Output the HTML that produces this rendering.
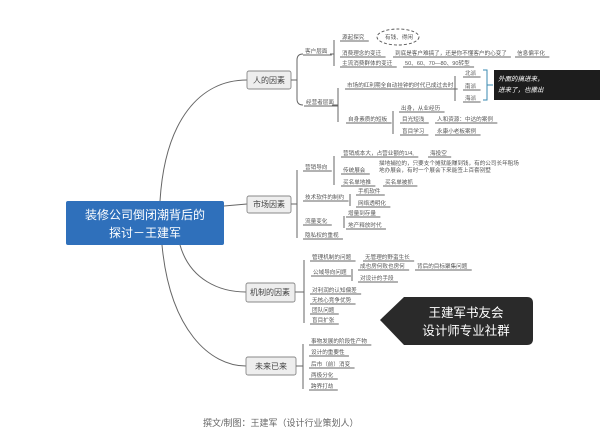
<!DOCTYPE html>
<html><head><meta charset="utf-8"><style>
html,body{margin:0;padding:0;background:#fff;}
svg{display:block;font-family:"Liberation Sans","Noto Sans CJK SC",sans-serif;}
.t{font-size:5.6px;fill:#555;}
.l{stroke:#666;stroke-width:1;fill:none;}
.b{fill:#eee;stroke:#888;stroke-width:0.9;}
.bt{font-size:8px;fill:#444;text-anchor:middle;}
</style></head><body>
<svg id="s" width="600" height="436" viewBox="0 0 600 436">
<path class="l" d="M160 201 C165 120,200 80,247 80"/>
<path class="l" d="M224 206 L247 204"/>
<path class="l" d="M180 245 C190 280,220 292,246 292"/>
<path class="l" d="M162 245 C170 330,210 366,246 366"/>
<rect x="66" y="201" width="158" height="44" rx="2" fill="#2f70bb"/>
<text x="145" y="219" font-size="12" fill="#fff" text-anchor="middle">装修公司倒闭潮背后的</text>
<text x="145" y="237" font-size="12" fill="#fff" text-anchor="middle">探讨－王建军</text>

<rect class="b" x="247" y="71" width="44" height="18" rx="2"/><text class="bt" x="269" y="83">人的因素</text>
<rect class="b" x="247" y="196" width="44" height="17" rx="2"/><text class="bt" x="269" y="207">市场因素</text>
<rect class="b" x="246" y="283" width="49" height="19" rx="2"/><text class="bt" x="270" y="295">机制的因素</text>
<rect class="b" x="246" y="357" width="50" height="18" rx="2"/><text class="bt" x="271" y="369">未来已来</text>

<path class="l" d="M291 80 H297 M303 54 Q297 54 297 60 V99 Q297 105 303 105"/>
<path class="l" d="M334 40 V66 M334 54 H330"/>
<path class="l" d="M338 88 V122 M338 105 H332"/>
<path class="l" d="M455 76 V101"/>
<path d="M483 70 H487 V100 H483 M487 85 H493" stroke="#3a8ab0" stroke-width="1" fill="none"/>
<path class="l" d="M393 111 V134"/>
<path class="l" d="M291 204 H297 M297 170 V238"/>
<path class="l" d="M334 156 V185"/>
<path class="l" d="M350 194 V206"/>
<path class="l" d="M344 216 V228"/>
<path class="l" d="M295 292 H304 M304 260 V323"/>
<path class="l" d="M352 269 V281"/>
<path class="l" d="M296 366 H303 M303 344 V389"/>

<g id="u">
<text class="t" x="305" y="53">客户层面</text>
<text class="t" x="306" y="104">经营者层面</text>
<text class="t" x="342" y="39">源起探究</text>
<text class="t" x="342" y="55">消费理念的变迁</text>
<text class="t" x="342" y="65">主流消费群体的变迁</text>
<text class="t" x="395" y="55">到底是客户难搞了，还是你不懂客户的心变了</text>
<text class="t" x="517" y="55">信息偏平化</text>
<text class="t" x="405" y="65">50、60、70—80、90转型</text>
<text class="t" x="347" y="87">市场的红利期全自动挂钟的时代已成过去时</text>
<text class="t" x="348" y="121">自身素质的短板</text>
<text class="t" x="465" y="75">北派</text>
<text class="t" x="465" y="88">南派</text>
<text class="t" x="465" y="100">海派</text>
<text class="t" x="401" y="110">出身，从业经历</text>
<text class="t" x="402" y="121">目光短浅</text>
<text class="t" x="437" y="121">人和资源：中达的案例</text>
<text class="t" x="402" y="133">盲目学习</text>
<text class="t" x="437" y="133">永康小老板案例</text>
<text class="t" x="305" y="169">营销导向</text>
<text class="t" x="305" y="199">技术软件的制约</text>
<text class="t" x="305" y="223">流量变化</text>
<text class="t" x="305" y="237">隐私权的重视</text>
<text class="t" x="343" y="155">营销成本大，占营业额的1/4,</text>
<text class="t" x="430" y="155">海投空</text>
<text class="t" x="343" y="172">传统展会</text>
<text class="t" x="343" y="184">买名单地推</text>
<text class="t" x="385" y="184">买名单被抓</text>
<text class="t" x="358" y="193">手机软件</text>
<text class="t" x="358" y="205">网络透明化</text>
<text class="t" x="348" y="215">增量到存量</text>
<text class="t" x="348" y="227">地产释放时代</text>
<text class="t" x="312" y="259">管理机制的问题</text>
<text class="t" x="313" y="274">公域导向问题</text>
<text class="t" x="312" y="292">对利润的认知偏差</text>
<text class="t" x="312" y="302">无核心竞争优势</text>
<text class="t" x="312" y="312">团队问题</text>
<text class="t" x="312" y="322">盲目扩张</text>
<text class="t" x="365" y="259">无管理的野蛮生长</text>
<text class="t" x="360" y="268">成也房何败也房何</text>
<text class="t" x="417" y="268">背后的目标聚集问题</text>
<text class="t" x="360" y="280">对设计的手段</text>
<text class="t" x="311" y="343">事物发展的阶段性产物</text>
<text class="t" x="311" y="354">设计的重要性</text>
<text class="t" x="311" y="366">后市（前）消变</text>
<text class="t" x="311" y="377">两极分化</text>
<text class="t" x="311" y="388">跨界打劫</text>
</g>
<text class="t" x="379" y="165">描地捕拉的，只要支个摊就能赚到钱，有的公司长年租场</text>
<text class="t" x="379" y="172">地办展会，有时一个展会下来能签上百套别墅</text>
<ellipse cx="398" cy="37" rx="21" ry="8" fill="none" stroke="#555" stroke-width="0.9" stroke-dasharray="3,2"/>
<text class="t" x="385" y="39">有钱、得闲</text>

<rect x="494" y="70" width="106" height="30" fill="#1d1d1d"/>
<text x="498" y="81" font-size="6.5" fill="#fff" font-style="italic">外面的搞进来，</text>
<text x="498" y="92" font-size="6.5" fill="#fff" font-style="italic">进来了，也撒出</text>

<path d="M380 320 L404 297 H527 Q533 297 533 303 V339 Q533 345 527 345 H404 Z" fill="#2a2a2a"/>
<text x="466" y="317" font-size="12.5" fill="#fff" text-anchor="middle">王建军书友会</text>
<text x="466" y="335" font-size="12.5" fill="#fff" text-anchor="middle">设计师专业社群</text>

<text x="203" y="426" font-size="9" fill="#666">撰文/制图：王建军（设计行业策划人）</text>
</svg>
<script>
var s=document.getElementById('s');
document.querySelectorAll('#u text').forEach(function(t){
 var b=t.getBBox();var l=document.createElementNS('http://www.w3.org/2000/svg','line');
 l.setAttribute('x1',b.x-2);l.setAttribute('x2',b.x+b.width+4);
 var y=+t.getAttribute('y')+2;l.setAttribute('y1',y);l.setAttribute('y2',y);
 l.setAttribute('stroke','#666');l.setAttribute('stroke-width','1');s.appendChild(l);
});
</script>
</body></html>
